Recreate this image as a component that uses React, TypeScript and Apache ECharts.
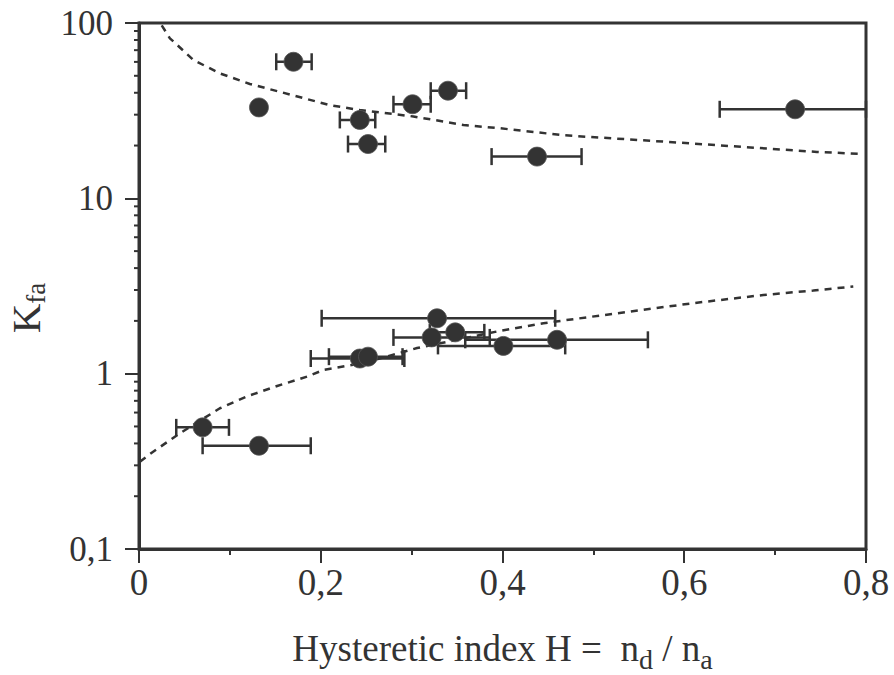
import React, { useEffect, useRef } from "react";
import * as echarts from "echarts";

// Upper group: H, Kfa, H error low, H error high
const upperH = [0.170, 0.132, 0.243, 0.252, 0.301, 0.340, 0.438, 0.722];
const upperK = [60.1, 33.0, 28.0, 20.4, 34.4, 41.1, 17.3, 32.2];
const upperLo = [0.151, 0.132, 0.221, 0.230, 0.280, 0.321, 0.388, 0.639];
const upperHi = [0.190, 0.132, 0.260, 0.271, 0.321, 0.360, 0.487, 0.800];

// Lower group
const lowerH = [0.070, 0.132, 0.243, 0.252, 0.328, 0.322, 0.348, 0.401, 0.460];
const lowerK = [0.494, 0.388, 1.22, 1.25, 2.07, 1.61, 1.72, 1.44, 1.56];
const lowerLo = [0.041, 0.070, 0.189, 0.209, 0.201, 0.280, 0.320, 0.329, 0.359];
const lowerHi = [0.099, 0.189, 0.292, 0.290, 0.458, 0.386, 0.380, 0.469, 0.560];

// Dashed fit curves
const upperCurveH = [0.025, 0.034, 0.060, 0.089, 0.122, 0.155, 0.210, 0.243, 0.302, 0.357, 0.397, 0.467, 0.606, 0.746, 0.797];
const upperCurveK = [97, 81.8, 61.5, 51.6, 44.9, 40.5, 34.0, 31.9, 29.3, 26.2, 25.1, 22.9, 20.6, 18.4, 17.9];
const lowerCurveH = [0.001, 0.014, 0.045, 0.089, 0.118, 0.152, 0.185, 0.203, 0.247, 0.306, 0.394, 0.445, 0.540, 0.614, 0.687, 0.742, 0.786];
const lowerCurveK = [0.315, 0.354, 0.457, 0.635, 0.739, 0.851, 0.962, 1.05, 1.15, 1.40, 1.74, 1.94, 2.26, 2.54, 2.81, 2.98, 3.14];

// Log-axis minor tick values
const decades = [0.1, 1, 10];
const minorMult = [2, 3, 4, 5, 6, 7, 8, 9];

const INK = "#333333";
const FONT = "Liberation Serif";

export default function App() {
  const ref = useRef<HTMLDivElement>(null);

  useEffect(() => {
    if (!ref.current) return;
    const chart = echarts.init(ref.current, undefined, { renderer: "svg" });

    const upperPts = upperH.map((h, i) => [h, upperK[i]]);
    const lowerPts = lowerH.map((h, i) => [h, lowerK[i]]);
    const upperErr = upperH.map((_, i) => [upperLo[i], upperHi[i], upperK[i]]).filter((d) => d[1] > d[0]);
    const lowerErr = lowerH.map((_, i) => [lowerLo[i], lowerHi[i], lowerK[i]]);
    const minorVals: number[][] = [];
    decades.forEach((d) => minorMult.forEach((m) => minorVals.push([0, +(d * m).toPrecision(3)])));

    const errRender = (params: any, api: any) => {
      const y = api.value(2);
      const p1 = api.coord([api.value(0), y]);
      const p2 = api.coord([api.value(1), y]);
      const h = 8.5;
      const st = { stroke: INK, lineWidth: 2.5 };
      return {
        type: "group",
        children: [
          { type: "line", shape: { x1: p1[0], y1: p1[1], x2: p2[0], y2: p2[1] }, style: st },
          { type: "line", shape: { x1: p1[0], y1: p1[1] - h, x2: p1[0], y2: p1[1] + h }, style: st },
          { type: "line", shape: { x1: p2[0], y1: p2[1] - h, x2: p2[0], y2: p2[1] + h }, style: st },
        ],
      };
    };

    const minorRender = (params: any, api: any) => {
      const p = api.coord([api.value(0), api.value(1)]);
      return {
        type: "line",
        shape: { x1: p[0] - 5, y1: p[1], x2: p[0], y2: p[1] },
        style: { stroke: INK, lineWidth: 2 },
      };
    };

    const dashStyle = { color: INK, width: 2.5, type: [7, 6] as any };

    chart.setOption({
      animation: false,
      backgroundColor: "#ffffff",
      textStyle: { fontFamily: FONT, color: INK },
      grid: {
        left: 139,
        top: 23,
        right: 28,
        bottom: 126,
        containLabel: false,
        outerBoundsMode: "none",
        show: true,
        borderColor: INK,
        borderWidth: 3,
        backgroundColor: "transparent",
      },
      xAxis: {
        type: "value",
        min: 0,
        max: 0.8,
        interval: 0.2,
        axisLine: { show: true, lineStyle: { color: INK, width: 3 } },
        axisTick: { show: true, length: 14, lineStyle: { color: INK, width: 2 } },
        minorTick: { show: true, splitNumber: 2, length: 6, lineStyle: { color: INK, width: 2 } },
        splitLine: { show: false },
        axisLabel: {
          fontFamily: FONT,
          fontSize: 37,
          color: INK,
          margin: 15,
          formatter: (v: number) => (v === 0 ? "0" : v.toFixed(1).replace(".", ",")),
        },
        name: "{m|Hysteretic index H =  n}{s|d}{m| / n}{s|a}",
        nameLocation: "middle",
        nameGap: 74,
        nameTextStyle: {
          rich: {
            m: { fontFamily: FONT, fontSize: 37, color: INK },
            s: { fontFamily: FONT, fontSize: 28, color: INK, padding: [22, 0, 0, 0] },
          },
        },
      },
      yAxis: {
        type: "log",
        logBase: 10,
        min: 0.1,
        max: 100,
        axisLine: { show: true, lineStyle: { color: INK, width: 3 } },
        axisTick: { show: true, length: 14, lineStyle: { color: INK, width: 2 } },
        minorTick: { show: false },
        splitLine: { show: false },
        axisLabel: {
          fontFamily: FONT,
          fontSize: 35,
          color: INK,
          margin: 26,
          formatter: (v: number) => String(v).replace(".", ","),
        },
        name: "{m|K}{s|fa}",
        nameLocation: "middle",
        nameGap: 86,
        nameRotate: 90,
        nameTextStyle: {
          padding: [0, 44, 0, 0],
          rich: {
            m: { fontFamily: FONT, fontSize: 41, color: INK },
            s: { fontFamily: FONT, fontSize: 27, color: INK, padding: [20, 0, 0, 0] },
          },
        },
      },
      series: [
        {
          type: "custom",
          renderItem: minorRender,
          data: minorVals,
          clip: false,
          silent: true,
          z: 1,
        },
        {
          type: "line",
          data: upperCurveH.map((h, i) => [h, upperCurveK[i]]),
          showSymbol: false,
          lineStyle: dashStyle,
          z: 2,
        },
        {
          type: "line",
          data: lowerCurveH.map((h, i) => [h, lowerCurveK[i]]),
          showSymbol: false,
          lineStyle: dashStyle,
          z: 2,
        },
        {
          type: "custom",
          renderItem: errRender,
          data: upperErr,
          encode: { x: [0, 1], y: 2 },
          clip: false,
          z: 3,
        },
        {
          type: "custom",
          renderItem: errRender,
          data: lowerErr,
          encode: { x: [0, 1], y: 2 },
          clip: false,
          z: 3,
        },
        {
          type: "scatter",
          data: upperPts,
          symbol: "circle",
          symbolSize: 19,
          itemStyle: { color: INK, borderColor: "#555", borderWidth: 0.8, opacity: 1 },
          z: 4,
        },
        {
          type: "scatter",
          data: lowerPts,
          symbol: "circle",
          symbolSize: 19,
          itemStyle: { color: INK, borderColor: "#555", borderWidth: 0.8, opacity: 1 },
          z: 4,
        },
      ],
    });

    return () => chart.dispose();
  }, []);

  return (
    <div
      ref={ref}
      style={{ position: "fixed", left: 0, top: 0, width: 894, height: 675, background: "#fff" }}
    />
  );
}
